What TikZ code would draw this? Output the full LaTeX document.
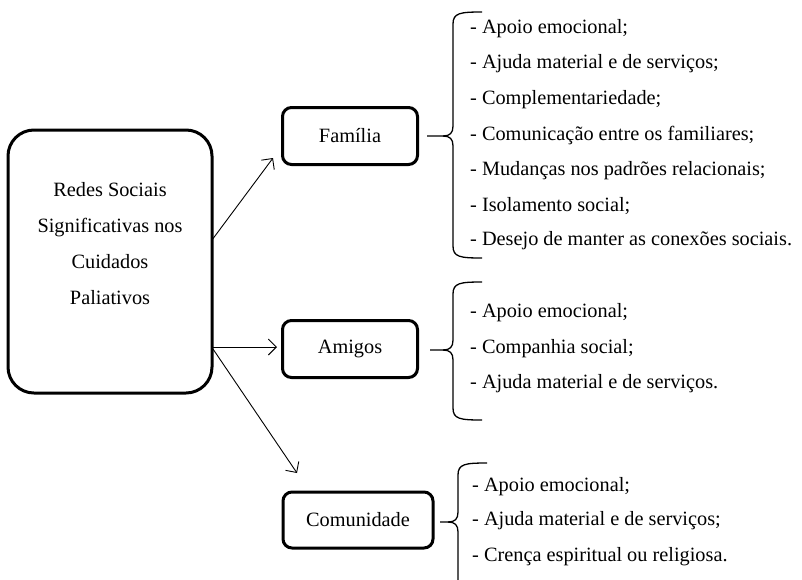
\documentclass[tikz,border=0pt]{standalone}
\usepackage{fontspec}
\setmainfont{Liberation Serif}
\usetikzlibrary{arrows.meta}
\begin{document}
\begin{tikzpicture}[x=1pt,y=-1pt,
  txt/.style={font=\fontsize{20.3}{35.7}\selectfont},
  mainbox/.style={draw,line width=3pt,rounded corners=26pt,minimum width=204pt,minimum height=263pt},
  catbox/.style={draw,line width=3pt,rounded corners=9pt,minimum height=57pt,txt},
  item/.style={anchor=west,inner sep=0pt,txt},
  arr/.style={line width=0.9pt,-{Straight Barb[length=8pt,width=16pt,line width=0.9pt]}},
  brace/.style={line width=1.3pt,line join=round}]
\useasboundingbox (0,0) rectangle (802,579);
\fill[white] (0,0) rectangle (802,579);

\node[mainbox] (main) at (110,261.5) {};
\node[txt,align=center] (mainlbl) at (110,243.5) {Redes Sociais\\Significativas nos\\Cuidados\\Paliativos};

\node[catbox,minimum width=135pt] (fam) at (350,136) {Família};
\node[catbox,minimum width=135pt] (ami) at (350,349) {Amigos};
\node[catbox,minimum width=150pt,minimum height=56pt] (com) at (358,520) {Comunidade};

\coordinate (s1) at (212,240);
\coordinate (e1) at (273,158);
\coordinate (s2) at (213,347);
\coordinate (e2) at (277,347);
\coordinate (s3) at (213,349);
\coordinate (e3) at (297,473);
\draw[arr] (s1) -- (e1);
\draw[arr] (s2) -- (e2);
\draw[arr] (s3) -- (e3);

% braces
\draw[brace] (482,12) .. controls (460,12) and (453,13) .. (453,24) -- (453,126)
  .. controls (453,133) and (450,136) .. (443,136) -- (427,136);
\draw[brace] (482,258) .. controls (460,258) and (453,257) .. (453,246) -- (453,146)
  .. controls (453,139) and (450,136) .. (443,136);
\draw[brace] (482,282) .. controls (460,282) and (453,283) .. (453,294) -- (453,340)
  .. controls (453,347) and (450,350) .. (443,350) -- (430,350);
\draw[brace] (482,420) .. controls (460,420) and (453,419) .. (453,408) -- (453,360)
  .. controls (453,353) and (450,350) .. (443,350);
\draw[brace] (487,463) .. controls (465,463) and (458,464) .. (458,475) -- (458,512)
  .. controls (458,519) and (455,522) .. (448,522) -- (440,522);
\draw[brace] (458,600) -- (458,532)
  .. controls (458,525) and (455,522) .. (448,522);

% items
\node[item] (f1) at (470,29) {- Apoio emocional;};
\node[item] (f2) at (470,64) {- Ajuda material e de serviços;};
\node[item] (f3) at (470,100) {- Complementariedade;};
\node[item] (f4) at (470,136) {- Comunicação entre os familiares;};
\node[item] (f5) at (470,171) {- Mudanças nos padrões relacionais;};
\node[item] (f6) at (470,206) {- Isolamento social;};
\node[item] (f7) at (470,241) {- Desejo de manter as conexões sociais.};

\node[item] (a1) at (470,313) {- Apoio emocional;};
\node[item] (a2) at (470,349) {- Companhia social;};
\node[item] (a3) at (470,384) {- Ajuda material e de serviços.};

\node[item] (c1) at (472,487) {- Apoio emocional;};
\node[item] (c2) at (472,521) {- Ajuda material e de serviços;};
\node[item] (c3) at (472,557) {- Crença espiritual ou religiosa.};
\end{tikzpicture}
\end{document}
